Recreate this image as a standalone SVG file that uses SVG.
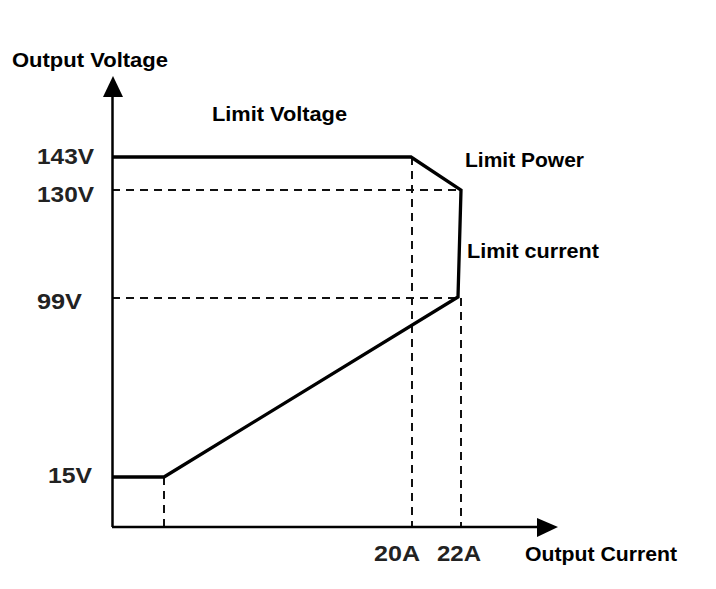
<svg xmlns="http://www.w3.org/2000/svg" width="716" height="589" viewBox="0 0 716 589">
<style>
.lbl{font-family:"Liberation Sans",Arial,sans-serif;font-weight:bold;fill:#000;font-size:20px}
.num{font-family:"Liberation Sans",Arial,sans-serif;font-weight:bold;fill:#222;font-size:22.5px}
.axis{stroke:#000;stroke-width:2.5;fill:none}
.dash{stroke:#111;stroke-width:2;stroke-dasharray:8 6;fill:none}
.curve{stroke:#000;stroke-width:3.3;fill:none;stroke-linejoin:miter}
</style>
<rect width="716" height="589" fill="#fff"/>
<g id="connectors">
<line class="dash" x1="112" y1="190" x2="460" y2="190"/>
<line class="dash" x1="112" y1="298" x2="458" y2="298"/>
<line class="dash" x1="412" y1="157" x2="412" y2="527"/>
<line class="dash" x1="461" y1="298" x2="461" y2="527"/>
<line class="dash" x1="164" y1="477" x2="164" y2="527"/>
<line class="axis" x1="112.5" y1="527" x2="112.5" y2="94"/>
<polygon points="113,76 103,97 123,97" fill="#000"/>
<line class="axis" x1="112" y1="527" x2="540" y2="527"/>
<polygon points="558,527 537,518 537,537" fill="#000"/>
<path class="curve" d="M112,477 L164,477 L458,297 L461,190 L411,157 L112,157"/>
</g>
<g id="axis-labels">
<text class="lbl" x="12" y="67" textLength="156" lengthAdjust="spacingAndGlyphs">Output Voltage</text>
<text class="lbl" x="525" y="561" textLength="152" lengthAdjust="spacingAndGlyphs">Output Current</text>
</g>
<g id="region-labels">
<text class="lbl" x="212" y="121" textLength="135" lengthAdjust="spacingAndGlyphs">Limit Voltage</text>
<text class="lbl" x="465" y="167" textLength="119" lengthAdjust="spacingAndGlyphs">Limit Power</text>
<text class="lbl" x="467" y="258" textLength="132" lengthAdjust="spacingAndGlyphs">Limit current</text>
</g>
<g id="ticks">
<text class="num" x="37" y="164" textLength="57" lengthAdjust="spacingAndGlyphs">143V</text>
<text class="num" x="37" y="202" textLength="57" lengthAdjust="spacingAndGlyphs">130V</text>
<text class="num" x="37" y="309" textLength="45" lengthAdjust="spacingAndGlyphs">99V</text>
<text class="num" x="48" y="483" textLength="44" lengthAdjust="spacingAndGlyphs">15V</text>
<text class="num" x="374" y="561" textLength="46" lengthAdjust="spacingAndGlyphs">20A</text>
<text class="num" x="437" y="561" textLength="44" lengthAdjust="spacingAndGlyphs">22A</text>
</g>
</svg>
